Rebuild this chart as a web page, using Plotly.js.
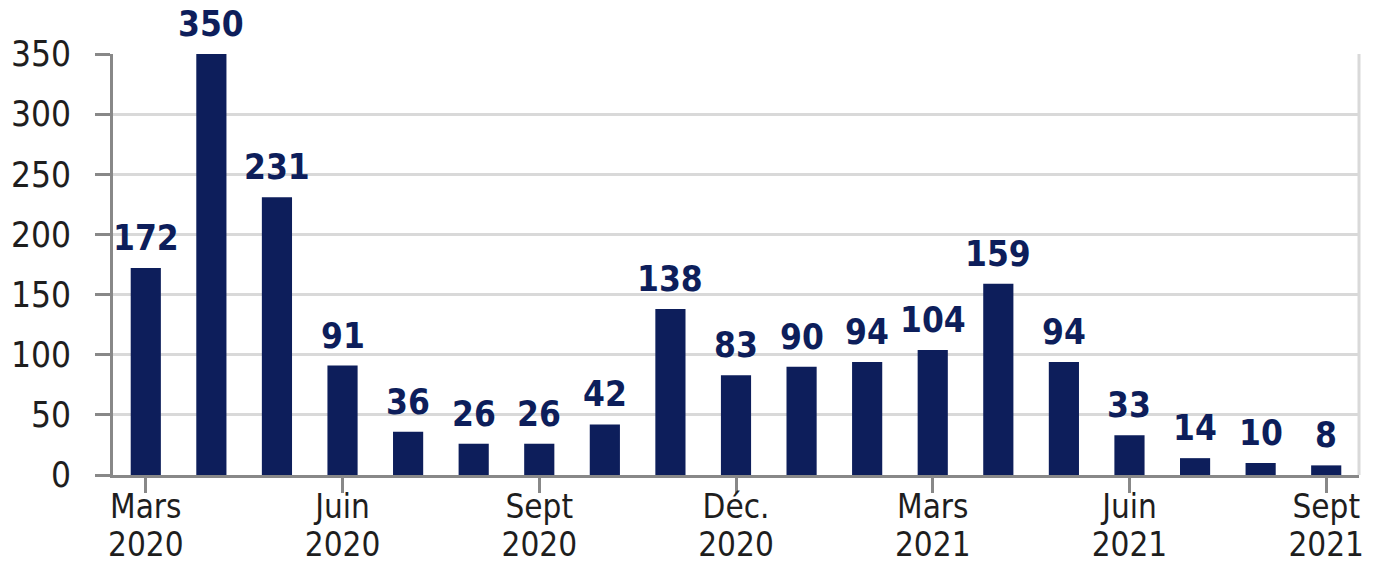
<!DOCTYPE html>
<html><head><meta charset="utf-8">
<script src="https://cdn.plot.ly/plotly-3.0.1.min.js"></script>
<style>html,body{margin:0;padding:0;background:#fff}#chart{width:1373px;height:564px}</style>
</head><body><div id="chart"></div>
<script>
const months = ['Mars 2020','Avr. 2020','Mai 2020','Juin 2020','Juil. 2020','Août 2020','Sept 2020','Oct. 2020','Nov. 2020','Déc. 2020','Janv. 2021','Févr. 2021','Mars 2021','Avr. 2021','Mai 2021','Juin 2021','Juil. 2021','Août 2021','Sept 2021'];
const values = [172,350,231,91,36,26,26,42,138,83,90,94,104,159,94,33,14,10,8];
const tickMonths = ['Mars 2020','Juin 2020','Sept 2020','Déc. 2020','Mars 2021','Juin 2021','Sept 2021'];
const tickLine1 = ['Mars','Juin','Sept','Déc.','Mars','Juin','Sept'];
const tickLine2 = ['2020','2020','2020','2020','2021','2021','2021'];
const yTicks = [0,50,100,150,200,250,300,350];

const FONT = '"DejaVu Sans Condensed", "DejaVu Sans", sans-serif';
const NAVY = '#0d1e5b';

const traces = [
  {type:'bar', x:months, y:values, marker:{color:NAVY}, width:0.46, hoverinfo:'x+y'},
  {type:'scatter', mode:'markers', x:months, y:values, xaxis:'x2', yaxis:'y', marker:{opacity:0}, hoverinfo:'skip', showlegend:false}
];

const annotations = months.map((m,i)=>({
  x:m, y:values[i], xref:'x', yref:'y', text:String(values[i]), showarrow:false,
  yanchor:'bottom', yshift:8, font:{family:FONT, size:35, color:NAVY, weight:'bold'}
}));

const layout = {
  width:1373, height:564,
  margin:{l:113, r:14, t:54, b:89},
  paper_bgcolor:'#fff', plot_bgcolor:'#fff',
  showlegend:false, bargap:0.54,
  xaxis:{type:'category', categoryorder:'array', categoryarray:months, range:[-0.5,18.5],
    tickvals:tickMonths, ticktext:tickLine1, ticks:'outside', ticklen:15, tickwidth:3, tickcolor:'#888',
    showline:true, linecolor:'#888', linewidth:3, showgrid:false, ticklabelstandoff:-15,
    tickfont:{family:FONT, size:33, color:'#1e1e1e'}, fixedrange:true},
  xaxis2:{type:'category', categoryorder:'array', categoryarray:months, range:[-0.5,18.5], overlaying:'x', anchor:'y', side:'bottom',
    tickvals:tickMonths, ticktext:tickLine2, ticks:'', showline:false, showgrid:false, zeroline:false,
    ticklabelstandoff:47, tickfont:{family:FONT, size:33, color:'#1e1e1e'}},
  yaxis:{range:[0,350], tickvals:yTicks, ticks:'outside', ticklen:15, tickwidth:3, tickcolor:'#888',
    showline:true, linecolor:'#888', linewidth:3, showgrid:true, gridcolor:'#d9d9d9', gridwidth:3, zeroline:false,
    ticklabelstandoff:17, tickfont:{family:FONT, size:35, color:'#1e1e1e'}},
  shapes:[{type:'line', xref:'paper', yref:'paper', x0:1, x1:1, y0:0, y1:1, line:{color:'#d9d9d9', width:3}}],
  annotations:annotations
};
Plotly.newPlot('chart', traces, layout, {displayModeBar:false, staticPlot:true});
</script></body></html>
